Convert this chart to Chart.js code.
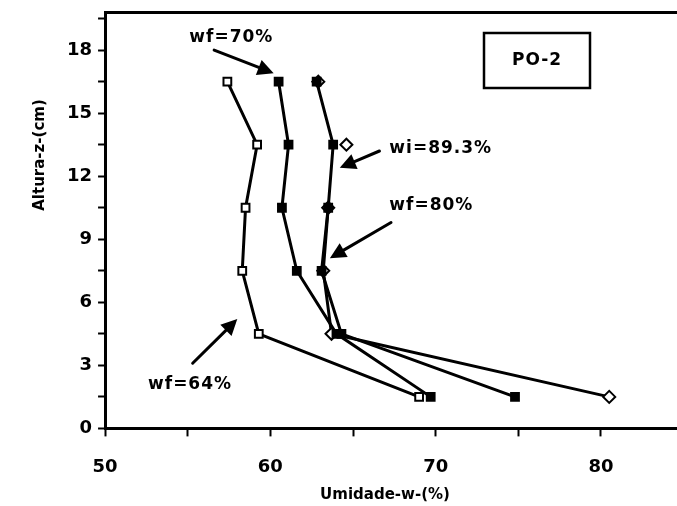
<!DOCTYPE html>
<html>
<head>
<meta charset="utf-8">
<script src="https://cdn.jsdelivr.net/npm/chart.js@4.4.1/dist/chart.umd.min.js"></script>
<style>
  html, body { margin: 0; padding: 0; background: #fff; overflow: hidden; }
  #wrap { width: 685px; height: 506px; }
</style>
</head>
<body>
<div id="wrap"><canvas id="perfil"></canvas></div>
<script>
// alturas (cm) and water content profiles (%)
var alturas = [16.5, 13.5, 10.5, 7.5, 4.5, 1.5];
var wf64 = [57.4, 59.2, 58.5, 58.3, 59.3, 69.0];
var wf70 = [60.5, 61.1, 60.7, 61.6, 64.0, 69.7];
var wf80 = [62.8, 63.8, 63.5, 63.1, 64.3, 74.8];
var wi893 = [62.9, 64.6, 63.5, 63.2, 63.7, 80.5];

var xTicks = [50, 55, 60, 65, 70, 75, 80];
var yTicks = [0, 1.5, 3, 4.5, 6, 7.5, 9, 10.5, 12, 13.5, 15, 16.5, 18, 19.5];

// text notes with arrows, in data units
var notas = [
  {texto: 'wf=70%', x: 55.1, y: 18.6, de: [56.6, 18.0], ate: [60.2, 16.9]},
  {texto: 'wi=89.3%', x: 67.2, y: 13.3, de: [66.6, 13.2], ate: [64.2, 12.4]},
  {texto: 'wf=80%', x: 67.2, y: 10.6, de: [67.3, 9.8], ate: [63.6, 8.1]},
  {texto: 'wf=64%', x: 52.6, y: 2.1, de: [55.3, 3.1], ate: [58.0, 5.2]}
];

function pares(xs) {
  return xs.map(function (v, i) { return {x: v, y: alturas[i]}; });
}

function seta(ctx, x1, y1, x2, y2) {
  var ang = Math.atan2(y2 - y1, x2 - x1);
  var L = 16, W = 8;
  var bx = x2 - L * Math.cos(ang), by = y2 - L * Math.sin(ang);
  ctx.beginPath();
  ctx.moveTo(x1, y1);
  ctx.lineTo(bx, by);
  ctx.stroke();
  ctx.beginPath();
  ctx.moveTo(x2, y2);
  ctx.lineTo(bx + W * Math.sin(ang), by - W * Math.cos(ang));
  ctx.lineTo(bx - W * Math.sin(ang), by + W * Math.cos(ang));
  ctx.closePath();
  ctx.fill();
}

var notasPlugin = {
  id: 'notas',
  afterDatasetsDraw: function (chart) {
    var ctx = chart.ctx, xs = chart.scales.x, ys = chart.scales.y;
    ctx.save();
    ctx.fillStyle = '#000';
    ctx.strokeStyle = '#000';
    ctx.lineWidth = 3;
    ctx.lineCap = 'round';
    ctx.font = 'bold 17px "DejaVu Sans"';
    ctx.letterSpacing = '1px';
    ctx.textBaseline = 'middle';
    notas.forEach(function (n) {
      ctx.fillText(n.texto, xs.getPixelForValue(n.x), ys.getPixelForValue(n.y));
      seta(ctx, xs.getPixelForValue(n.de[0]), ys.getPixelForValue(n.de[1]),
        xs.getPixelForValue(n.ate[0]), ys.getPixelForValue(n.ate[1]));
    });
    // PO-2 box
    ctx.lineWidth = 2.5;
    ctx.fillStyle = '#fff';
    ctx.fillRect(484, 33, 106, 55);
    ctx.strokeRect(484, 33, 106, 55);
    ctx.fillStyle = '#000';
    ctx.textAlign = 'center';
    ctx.font = 'bold 17px "DejaVu Sans"';
    ctx.fillText('PO-2', 537, 61);
    // x title
    ctx.font = 'bold 15px "DejaVu Sans"';
    ctx.letterSpacing = '0px';
    ctx.fillText('Umidade-w-(%)', 385, 495);
    // y title
    ctx.translate(40, 155);
    ctx.rotate(-Math.PI / 2);
    ctx.fillText('Altura-z-(cm)', 0, 0);
    ctx.restore();
  }
};

var comum = {
  showLine: true,
  borderColor: '#000',
  borderWidth: 3,
  pointBorderColor: '#000',
  pointBorderWidth: 2,
  tension: 0
};

new Chart(document.getElementById('perfil').getContext('2d'), {
  type: 'scatter',
  data: {
    datasets: [
      Object.assign({label: 'wf=64%', data: pares(wf64), pointStyle: 'rect', pointRadius: 5.5,
        pointBackgroundColor: '#fff'}, comum),
      Object.assign({label: 'wf=70%', data: pares(wf70), pointStyle: 'rect', pointRadius: 5.5,
        pointBackgroundColor: '#000'}, comum),
      Object.assign({label: 'wf=80%', data: pares(wf80), pointStyle: 'rect', pointRadius: 5.5,
        pointBackgroundColor: '#000'}, comum),
      Object.assign({label: 'wi=89.3%', data: pares(wi893), pointStyle: 'rectRot', pointRadius: 6,
        pointBackgroundColor: '#fff',
        segment: {borderColor: function (c) { return c.p0DataIndex < 2 ? 'rgba(0,0,0,0)' : '#000'; }}
      }, comum)
    ]
  },
  options: {
    responsive: true,
    maintainAspectRatio: false,
    animation: false,
    layout: {padding: {left: 61, right: 0, top: 0, bottom: 8}},
    plugins: {legend: {display: false}, tooltip: {enabled: false}},
    scales: {
      x: {
        type: 'linear', min: 50, max: 84.6,
        afterBuildTicks: function (s) { s.ticks = xTicks.map(function (v) { return {value: v}; }); },
        grid: {drawOnChartArea: false, tickLength: 8, tickColor: '#000', tickWidth: 2},
        border: {color: '#000', width: 3},
        ticks: {
          color: '#000', padding: 20, autoSkip: false, maxRotation: 0,
          font: {family: 'DejaVu Sans', size: 18, weight: 'bold'},
          callback: function (v) { return v % 10 === 0 ? v : ''; }
        }
      },
      x2: {
        type: 'linear', position: 'top', min: 50, max: 84.6,
        grid: {drawOnChartArea: false, drawTicks: false},
        border: {color: '#000', width: 3},
        ticks: {display: false}
      },
      y: {
        type: 'linear', min: 0, max: 19.8,
        afterBuildTicks: function (s) { s.ticks = yTicks.map(function (v) { return {value: v}; }); },
        grid: {drawOnChartArea: false, tickLength: 7, tickColor: '#000', tickWidth: 2},
        border: {color: '#000', width: 3},
        ticks: {
          color: '#000', padding: 6, autoSkip: false,
          font: {family: 'DejaVu Sans', size: 18, weight: 'bold', lineHeight: 0.7},
          callback: function (v) { return v % 3 === 0 ? v : ''; }
        }
      }
    }
  },
  plugins: [notasPlugin]
});
</script>
</body>
</html>
